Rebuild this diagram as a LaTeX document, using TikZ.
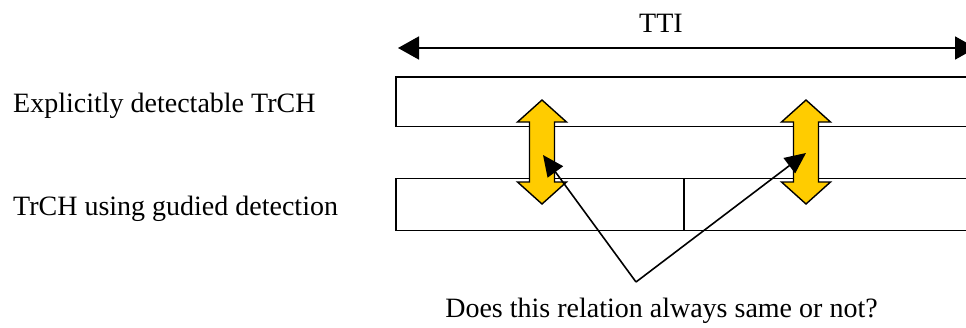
\documentclass[tikz,border=0pt]{standalone}
\usepackage{fontspec}
\setmainfont{Liberation Serif}
\usetikzlibrary{arrows.meta}
\definecolor{relyellow}{HTML}{FFCC00}
\tikzset{
  lbl/.style={font=\fontsize{28}{32}\selectfont, inner sep=0pt},
  frame/.style={draw=black, line width=1.7pt},
  dblarrow/.style={draw=black, line width=1.4pt, fill=relyellow, line join=miter},
  pointer/.style={draw=black, line width=1.6pt, -{Triangle[length=21pt,width=19pt]}},
  span/.style={draw=black, line width=1.8pt, {Triangle[length=21pt,width=23pt]}-{Triangle[length=21pt,width=23pt]}}
}
% vertical double arrow centred at x=#1
\newcommand{\yarrow}[1]{%
  \path[dblarrow] (#1,100) -- (#1+24.5,122) -- (#1+12.5,122) -- (#1+12.5,182)
    -- (#1+24.5,182) -- (#1,204) -- (#1-24.5,182) -- (#1-12.5,182)
    -- (#1-12.5,122) -- (#1-24.5,122) -- cycle;}
\begin{document}
\begin{tikzpicture}[x=1pt,y=-1pt]
\useasboundingbox (0,0) rectangle (966,327);
\clip (0,0) rectangle (966,327);

% TTI span
\coordinate (ttiL) at (398,48);
\coordinate (ttiR) at (976,48);
\draw[span] (ttiL) -- (ttiR);
\node[lbl, anchor=base] (tti) at (661,32) {TTI};

% transport channel frames
\draw[frame] (396,77) rectangle (990,126.5);
\draw[frame] (396,178.5) rectangle (990,230.5);
\draw[frame] (684.3,178.5) -- (684.3,230.5);

% row labels
\node[lbl, anchor=base west] (expl) at (13,112) {Explicitly detectable TrCH};
\node[lbl, anchor=base west] (guided) at (13,215) {TrCH using gudied detection};

% relation arrows
\yarrow{542}
\yarrow{806}

% question and pointers
\node[lbl, anchor=base] (question) at (661.5,317) {Does this relation always same or not?};
\coordinate (apex) at (636,282);
\coordinate (tipL) at (543,155);
\coordinate (tipR) at (806,153);
\draw[pointer] (apex) -- (tipL);
\draw[pointer] (apex) -- (tipR);
\end{tikzpicture}
\end{document}
